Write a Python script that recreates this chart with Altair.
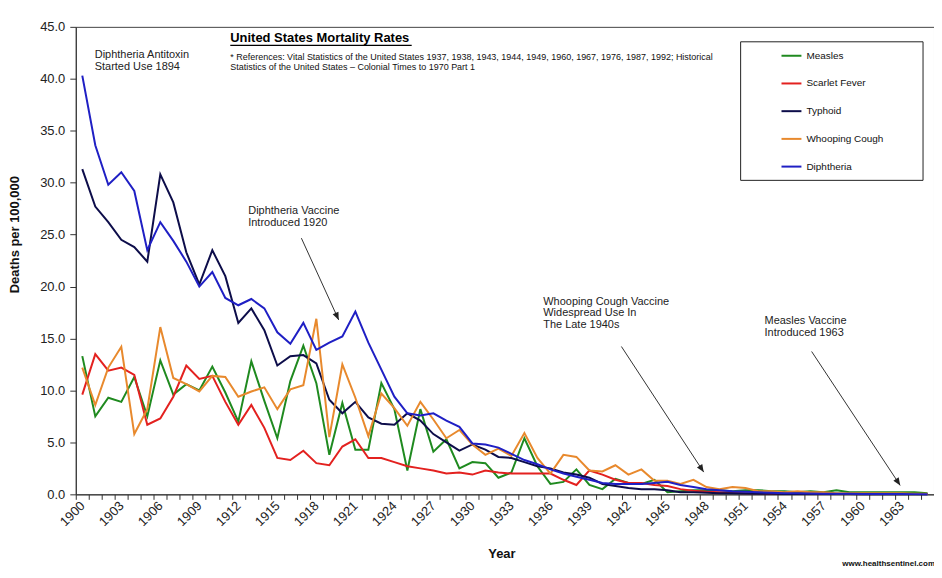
import math
import altair as alt
import pandas as pd

FONT = "Liberation Sans"

years = list(range(1900, 1966))

measles = [13.3, 7.5, 9.3, 8.9, 11.3, 7.5, 12.9, 9.6, 10.6, 10.0,
           12.3, 9.8, 7.0, 12.8, 9.0, 5.4, 10.9, 14.3, 10.7, 3.8,
           8.8, 4.3, 4.3, 10.7, 8.2, 2.3, 8.2, 4.1, 5.3, 2.5,
           3.1, 3.0, 1.6, 2.1, 5.4, 2.7, 1.0, 1.2, 2.4, 0.9,
           0.5, 1.5, 1.1, 1.0, 1.4, 0.2, 0.3, 0.4, 0.4, 0.4,
           0.3, 0.4, 0.4, 0.3, 0.3, 0.2, 0.3, 0.2, 0.4, 0.2,
           0.2, 0.2, 0.2, 0.2, 0.2, 0.1]
scarlet_fever = [9.6, 13.5, 11.9, 12.2, 11.5, 6.7, 7.3, 9.4, 12.4, 11.1,
                 11.4, 8.9, 6.7, 8.6, 6.4, 3.5, 3.3, 4.2, 3.0, 2.8,
                 4.6, 5.3, 3.5, 3.5, 3.1, 2.7, 2.5, 2.3, 2.0, 2.1,
                 1.9, 2.3, 2.1, 2.0, 2.0, 2.0, 2.0, 1.4, 0.9, 2.3,
                 1.9, 1.4, 1.1, 1.1, 0.9, 0.8, 0.5, 0.35, 0.25, 0.2,
                 0.15, 0.1, 0.1, 0.05, 0.05, 0.05, 0.04, 0.04, 0.03, 0.03,
                 0.03, 0.02, 0.02, 0.02, 0.02, 0.02]
typhoid = [31.3, 27.7, 26.2, 24.5, 23.8, 22.4, 30.8, 28.1, 23.3, 20.2,
           23.5, 21.0, 16.5, 17.9, 15.8, 12.4, 13.3, 13.4, 12.6, 9.1,
           7.8, 8.9, 7.4, 6.8, 6.7, 7.8, 7.1, 5.8, 5.0, 4.2,
           4.8, 4.3, 3.6, 3.5, 3.1, 2.7, 2.5, 2.1, 1.9, 1.6,
           1.0, 0.8, 0.6, 0.5, 0.5, 0.4, 0.2, 0.2, 0.15, 0.1,
           0.1, 0.08, 0.06, 0.05, 0.04, 0.03, 0.03, 0.02, 0.02, 0.02,
           0.01, 0.01, 0.01, 0.01, 0.01, 0.01]
whooping_cough = [12.2, 8.6, 12.2, 14.2, 5.8, 8.2, 16.1, 11.2, 10.6, 9.9,
                  11.4, 11.3, 9.4, 9.9, 10.3, 8.2, 10.1, 10.5, 16.9, 5.5,
                  12.5, 9.3, 5.6, 9.7, 8.3, 6.6, 8.9, 7.2, 5.4, 6.2,
                  4.8, 3.8, 4.4, 3.7, 5.9, 3.5, 2.0, 3.8, 3.6, 2.3,
                  2.2, 2.8, 1.9, 2.4, 1.3, 1.3, 1.0, 1.4, 0.7, 0.5,
                  0.7, 0.6, 0.3, 0.3, 0.2, 0.3, 0.2, 0.2, 0.1, 0.1,
                  0.1, 0.1, 0.1, 0.1, 0.05, 0.05]
diphtheria = [40.3, 33.6, 29.8, 31.0, 29.2, 23.5, 26.2, 24.4, 22.4, 20.0,
              21.4, 18.9, 18.2, 18.8, 17.9, 15.6, 14.5, 16.5, 13.9, 14.6,
              15.2, 17.6, 14.6, 12.0, 9.4, 7.8, 7.6, 7.8, 7.1, 6.5,
              4.9, 4.8, 4.5, 3.9, 3.3, 2.9, 2.4, 2.0, 1.7, 1.4,
              1.1, 1.0, 1.0, 1.0, 1.1, 1.2, 0.9, 0.7, 0.5, 0.4,
              0.3, 0.25, 0.2, 0.15, 0.1, 0.1, 0.08, 0.06, 0.05, 0.05,
              0.04, 0.03, 0.03, 0.03, 0.02, 0.01]

series_names = ["Measles", "Scarlet Fever", "Typhoid", "Whooping Cough", "Diphtheria"]
series_values = [measles, scarlet_fever, typhoid, whooping_cough, diphtheria]
series_colors = ["#1f8a1f", "#e3211f", "#0d0d4a", "#e8892d", "#1f1fc4"]

# annotation arrows (data coordinates: start -> end)
arrow_ids = ["diph", "whoop", "measles"]
arrow_start_year = [1916.85, 1941.46, 1956.09]
arrow_start_val = [24.66, 14.23, 13.75]
arrow_end_year = [1919.72, 1947.79, 1962.90]
arrow_end_val = [16.79, 2.14, 0.86]

PLOT_W, PLOT_H = 861, 469
X_DOMAIN = [1899.5, 1965.5]
Y_DOMAIN = [0, 45]
px_per_year = PLOT_W / (X_DOMAIN[1] - X_DOMAIN[0])
px_per_val = PLOT_H / (Y_DOMAIN[1] - Y_DOMAIN[0])
half_cat = px_per_year / 2

rows = []
for name, vals in zip(series_names, series_values):
    for yr, v in zip(years, vals):
        rows.append({"Disease": name, "Year": yr, "Deaths": v})
df = pd.DataFrame(rows)

arrow_rows = []
head_rows = []
for aid, sx, sy, ex, ey in zip(arrow_ids, arrow_start_year, arrow_start_val, arrow_end_year, arrow_end_val):
    arrow_rows.append({"id": aid, "Year": sx, "Deaths": sy, "o": 0})
    arrow_rows.append({"id": aid, "Year": ex, "Deaths": ey, "o": 1})
    dx = (ex - sx) * px_per_year
    dy = -(ey - sy) * px_per_val
    ang = math.degrees(math.atan2(dx, -dy)) % 360
    head_rows.append({"id": aid, "Year": ex, "Deaths": ey, "ang": ang})
arrow_df = pd.DataFrame(arrow_rows)
head_df = pd.DataFrame(head_rows)

xs = alt.Scale(domain=X_DOMAIN, nice=False, zero=False)
ys = alt.Scale(domain=Y_DOMAIN, nice=False)

x_axis = alt.Axis(
    values=years, tickCount=len(years) + 4, format="d", grid=False,
    labelExpr="(datum.value - 1900) % 3 == 0 ? datum.label : ''",
    labelAngle=315, labelAlign="right", labelBaseline="middle",
    labelOverlap=False, labelFlush=False,
    tickOffset=-half_cat, labelOffset=half_cat,
    tickSize=5, labelPadding=4, labelFontSize=13,
    title="Year", titleFontSize=13, titleFontWeight="bold",
    titleX=427, titleY=63, titleBaseline="alphabetic", titleAlign="center")
y_axis = alt.Axis(
    values=list(range(0, 46, 5)), tickCount=12, format=".1f", grid=False,
    tickSize=6, labelPadding=5, labelFontSize=13,
    title="Deaths per 100,000", titleFontSize=13, titleFontWeight="bold",
    titleX=-54, titleY=208, titleAlign="center")

lines = alt.Chart(df).mark_line(strokeWidth=2).encode(
    x=alt.X("Year:Q", scale=xs, axis=x_axis),
    y=alt.Y("Deaths:Q", scale=ys, axis=y_axis),
    color=alt.Color("Disease:N", scale=alt.Scale(domain=series_names, range=series_colors),
                    legend=alt.Legend(title=None, orient="none", legendX=707, legendY=18,
                                      symbolType="stroke", symbolSize=400, symbolStrokeWidth=2,
                                      labelFontSize=10, labelColor="#111", labelOffset=4,
                                      rowPadding=11.8, padding=0)),
    detail="Disease:N",
)

arrows = alt.Chart(arrow_df).mark_line(color="#333", strokeWidth=1).encode(
    x=alt.X("Year:Q", scale=xs, axis=x_axis),
    y=alt.Y("Deaths:Q", scale=ys, axis=y_axis),
    detail="id:N", order="o:Q")
heads = alt.Chart(head_df).mark_point(
    shape="M0,0L-0.42,1L0.42,1Z", filled=True, size=230, color="#222", opacity=1).encode(
    x=alt.X("Year:Q", scale=xs, axis=x_axis),
    y=alt.Y("Deaths:Q", scale=ys, axis=y_axis),
    angle=alt.Angle("ang:Q", scale=None))

one = pd.DataFrame({"a": [0]})

legend_box = alt.Chart(one).mark_rect(fill="white", stroke="#222", strokeWidth=1).encode(
    x=alt.value(667), x2=alt.value(850), y=alt.value(15), y2=alt.value(154))


def label(text, x, y, size=11, weight="normal", align="left", color="#222"):
    return alt.Chart(one).mark_text(
        text=text, font=FONT, fontSize=size, fontWeight=weight, align=align,
        baseline="alphabetic", color=color).encode(x=alt.value(x), y=alt.value(y))


texts = [
    label("United States Mortality Rates", 155, 15.5, size=13, weight="bold", color="#000"),
    label("* References: Vital Statistics of the United States 1937, 1938, 1943, 1944, 1949, 1960, 1967, 1976, 1987, 1992; Historical",
          155, 33.5, size=9, color="#111"),
    label("Statistics of the United States \u2013 Colonial Times to 1970 Part 1", 155, 43, size=9, color="#111"),
    label("Diphtheria Antitoxin", 19, 31.5),
    label("Started Use 1894", 19, 43.5),
    label("Diphtheria Vaccine", 173, 187.5),
    label("Introduced 1920", 173, 200),
    label("Whooping Cough Vaccine", 469, 279),
    label("Widespread Use In", 469, 290.5),
    label("The Late 1940s", 469, 302.5),
    label("Measles Vaccine", 691, 298),
    label("Introduced 1963", 691, 310),
    label("www.healthsentinel.com", 862, 541, size=8, weight="bold", align="right", color="#111"),
]

underline = alt.Chart(one).mark_rule(color="#000", strokeWidth=1.2).encode(
    x=alt.value(155), x2=alt.value(337), y=alt.value(18.5))

chart = alt.layer(legend_box, lines, arrows, heads, underline, *texts).properties(
    width=PLOT_W, height=PLOT_H,
    padding={"left": 68, "top": 18, "right": 0, "bottom": 73},
    autosize=alt.AutoSizeParams(type="none"),
).configure_view(stroke="#444", strokeWidth=1).configure_axis(
    labelFont=FONT, titleFont=FONT, labelColor="#222", titleColor="#111",
    domainColor="#333", tickColor="#333",
).configure_legend(labelFont=FONT)

chart.save("out.html", embed_options={"renderer": "svg", "actions": False})
